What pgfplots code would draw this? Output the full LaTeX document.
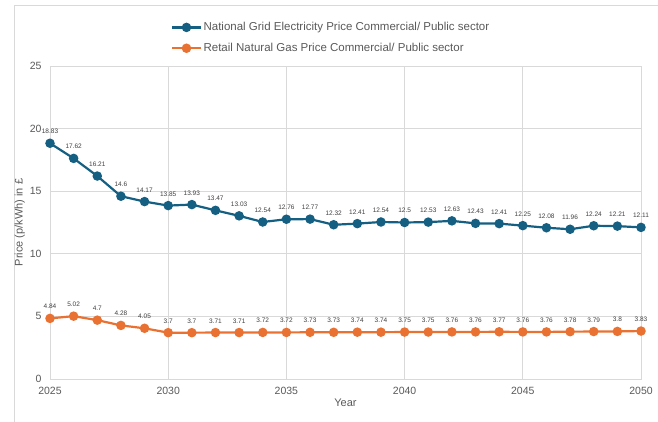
\documentclass[border=0pt]{standalone}
\usepackage{pgfplots}
\pgfplotsset{compat=1.18}
\usepackage{fontspec}
\setmainfont{Liberation Sans}
\definecolor{elec}{HTML}{156082}
\definecolor{gas}{HTML}{E97132}
\definecolor{gridc}{HTML}{D9D9D9}
\definecolor{txt}{HTML}{595959}
\definecolor{lbl}{HTML}{404040}
\begin{document}
\begin{tikzpicture}[x=1pt,y=1pt]
\useasboundingbox (0,0) rectangle (658,422);
\draw[gridc,line width=0.8pt] (14,0) -- (14,417) -- (658,417);
\begin{axis}[
  at={(50pt,43pt)}, anchor=south west,
  scale only axis, width=591pt, height=313pt,
  xmin=2025, xmax=2050, ymin=0, ymax=25,
  xtick={2025,2030,...,2050}, ytick={0,5,...,25},
  /pgf/number format/assume math mode=true,
  xticklabel style={/pgf/number format/1000 sep={}, font=\fontsize{10.5}{12}\selectfont, text=txt, yshift=-5pt},
  yticklabel style={font=\fontsize{10.5}{12}\selectfont, text=txt, xshift=-5pt},
  major tick length=0pt,
  grid=major, grid style={gridc, line width=0.7pt},
  axis line style={gridc, line width=0.7pt},
  xlabel={Year}, ylabel={Price (p/kWh) in £},
  xlabel style={font=\fontsize{11}{12}\selectfont, text=txt, yshift=3pt},
  ylabel style={font=\fontsize{11}{12}\selectfont, text=txt, yshift=-2pt},
  legend image code/.code={\draw[mark repeat=2,mark phase=2] plot coordinates {(0pt,0pt)(14pt,0pt)(28pt,0pt)};},
  legend style={at={(0.2,1.09)}, anchor=west, draw=none, fill=none,
    font=\fontsize{11.5}{13}\selectfont, text=txt, row sep=7pt},
  legend cell align=left,
  nodes near coords,
  nodes near coords style={font=\fontsize{6.5}{7}\selectfont, text=lbl, anchor=south, yshift=5pt},
  clip=false,
]
\addplot[elec, line width=2.2pt, mark=*, mark size=3.6pt, mark options={solid}] coordinates {
(2025,18.83) (2026,17.62) (2027,16.21) (2028,14.6) (2029,14.17) (2030,13.85)
(2031,13.93) (2032,13.47) (2033,13.03) (2034,12.54) (2035,12.76) (2036,12.77)
(2037,12.32) (2038,12.41) (2039,12.54) (2040,12.5) (2041,12.53) (2042,12.63)
(2043,12.43) (2044,12.41) (2045,12.25) (2046,12.08) (2047,11.96) (2048,12.24)
(2049,12.21) (2050,12.11)
};
\addlegendentry{National Grid Electricity Price Commercial/ Public sector}
\addplot[gas, line width=2.2pt, mark=*, mark size=3.6pt, mark options={solid}] coordinates {
(2025,4.84) (2026,5.02) (2027,4.7) (2028,4.28) (2029,4.05) (2030,3.7)
(2031,3.7) (2032,3.71) (2033,3.71) (2034,3.72) (2035,3.72) (2036,3.73)
(2037,3.73) (2038,3.74) (2039,3.74) (2040,3.75) (2041,3.75) (2042,3.76)
(2043,3.76) (2044,3.77) (2045,3.76) (2046,3.76) (2047,3.78) (2048,3.79)
(2049,3.8) (2050,3.83)
};
\addlegendentry{Retail Natural Gas Price Commercial/ Public sector}
\end{axis}
\end{tikzpicture}
\end{document}
